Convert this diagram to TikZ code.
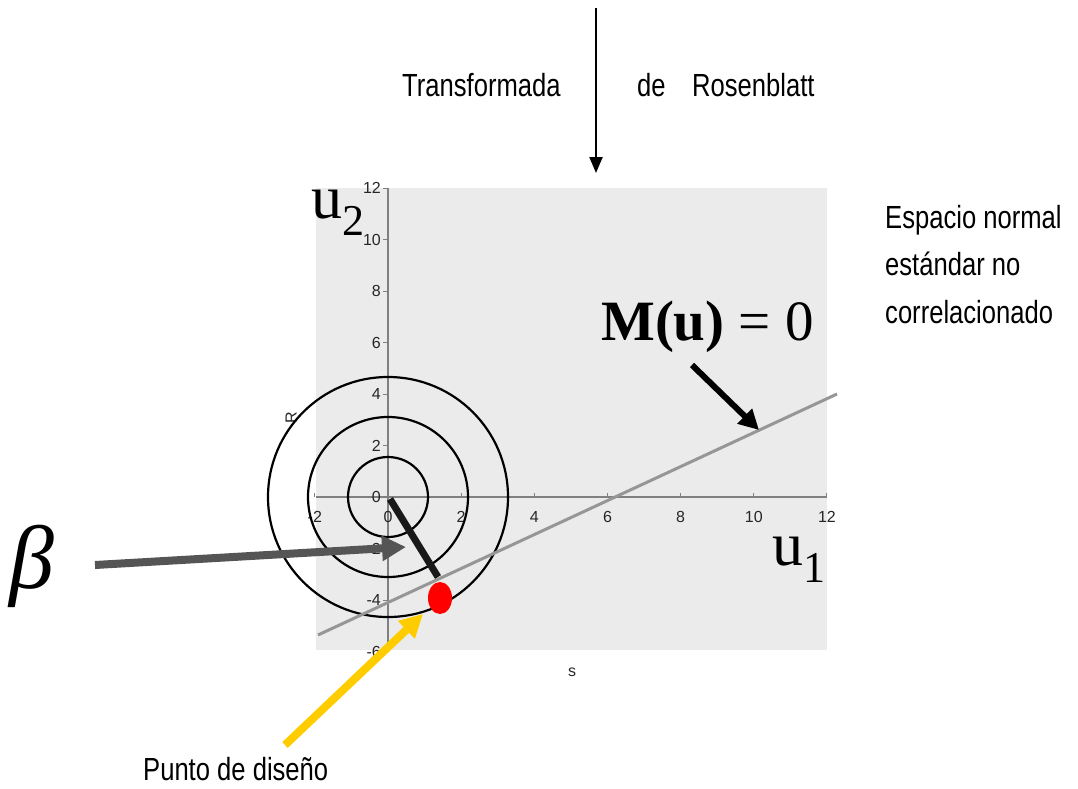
\documentclass[tikz,border=0pt]{standalone}
\usepackage{fontspec}
\setmainfont{Liberation Sans}
\newfontfamily\narrowfont[FakeStretch=0.8]{Liberation Sans}
\newfontfamily\serifsym{Liberation Serif}
\usetikzlibrary{arrows.meta,positioning}
\definecolor{plotbg}{RGB}{235,235,235}
\definecolor{axisgray}{RGB}{128,128,128}
\definecolor{limitgray}{RGB}{150,150,150}
\definecolor{betagray}{RGB}{85,85,85}
\definecolor{designred}{RGB}{255,0,0}
\definecolor{designyellow}{RGB}{255,204,0}

\begin{document}
\begin{tikzpicture}[x=1pt, y=-1pt,
  lbl/.style={font=\narrowfont\fontsize{32}{38}\selectfont, inner sep=0pt},
  tick/.style={font=\fontsize{16}{16}\selectfont, inner sep=1pt, text=black!85},
  bigsym/.style={font=\serifsym\fontsize{#1}{#1}\selectfont, inner sep=0pt},
  ring/.style={draw=black, line width=2.2pt},
  arrow/.style={-{Triangle[length=#1, width=#1]}},
  limitline/.style={draw=limitgray, line width=3pt}
]
  \useasboundingbox (0,0) rectangle (1078,789);

  % ── plot area and axes ──
  \fill[plotbg] (316,188) rectangle (827,650);
  \draw[axisgray, line width=1.2pt] (388,188) -- (388,650);
  \draw[axisgray, line width=1.2pt] (316,497) -- (827,497);
  \foreach \v in {-6,-4,...,12} {
    \draw[axisgray, line width=1pt] (383,{497-25.75*\v}) -- (388,{497-25.75*\v});
    \node[tick, anchor=east] at (382,{497-25.75*\v}) {\v};
  }
  \foreach \v in {-2,0,...,12} {
    \draw[axisgray, line width=1pt] ({388+36.58*\v},497) -- ({388+36.58*\v},493);
    \node[tick, anchor=north] at ({388+36.58*\v},510) {\v};
  }
  \node[tick, rotate=90] (rlab) at (291,418) {R};
  \node[tick] (slab) at (572,672) {s};

  % ── circles, limit state and design point ──
  \coordinate (o) at (388,497);
  \foreach \r in {40,80,120}
    \draw[ring] (o) circle[radius=\r];
  \coordinate (la) at (318,635);
  \coordinate (lb) at (837,394);
  \draw[limitline] (la) -- (lb);
  \coordinate (bs) at (390,499);
  \coordinate (dp) at (438,577);
  \draw[line width=7pt, black!90] (bs) -- (dp);
  \coordinate (dpt) at (440,598);
  \fill[designred] (dpt) ellipse[x radius=12, y radius=16];

  % ── labels ──
  \node[lbl, anchor=base west] (tr) at (402,97) {Transformada};
  \node[lbl, anchor=base west] (de) at (637,97) {de};
  \node[lbl, anchor=base west] (ros) at (692,97) {Rosenblatt};
  \node[lbl, anchor=base west] (sp1) at (885,228) {Espacio normal};
  \node[lbl, anchor=base west] (sp2) at (885,275) {estándar no};
  \node[lbl, anchor=base west] (sp3) at (885,323) {correlacionado};
  \node[lbl, anchor=base west] (pd) at (143,780) {Punto de diseño};
  \node[bigsym=62, anchor=base west] (u2) at (311,218)
    {u\fontsize{44}{44}\selectfont\raisebox{-17pt}{2}};
  \node[bigsym=62, anchor=base west] (u1) at (772,565)
    {u\fontsize{44}{44}\selectfont\raisebox{-17pt}{1}};
  \node[bigsym=57, anchor=base west] (mu) at (601,340) {\textbf{M(u)} = 0};
  \node[font=\serifsym\itshape\fontsize{90}{90}\selectfont, inner sep=0pt,
        anchor=base west] (beta) at (9,588) {β};

  % ── arrows ──
  \coordinate (ttop) at (596,8);
  \coordinate (tbot) at (596,173);
  \draw[line width=2.2pt, -{Triangle[length=16pt, width=13pt]}] (ttop) -- (tbot);
  \coordinate (ma) at (692,365);
  \coordinate (mb) at (759,430);
  \draw[line width=6pt, arrow=20pt] (ma) -- (mb);
  \coordinate (ba) at (95,565);
  \coordinate (bb) at (406,547);
  \draw[betagray, line width=8pt, arrow=24pt] (ba) -- (bb);
  \coordinate (ya) at (285,745);
  \coordinate (yb) at (423,614);
  \draw[designyellow, line width=8pt, arrow=23pt] (ya) -- (yb);
\end{tikzpicture}
\end{document}
